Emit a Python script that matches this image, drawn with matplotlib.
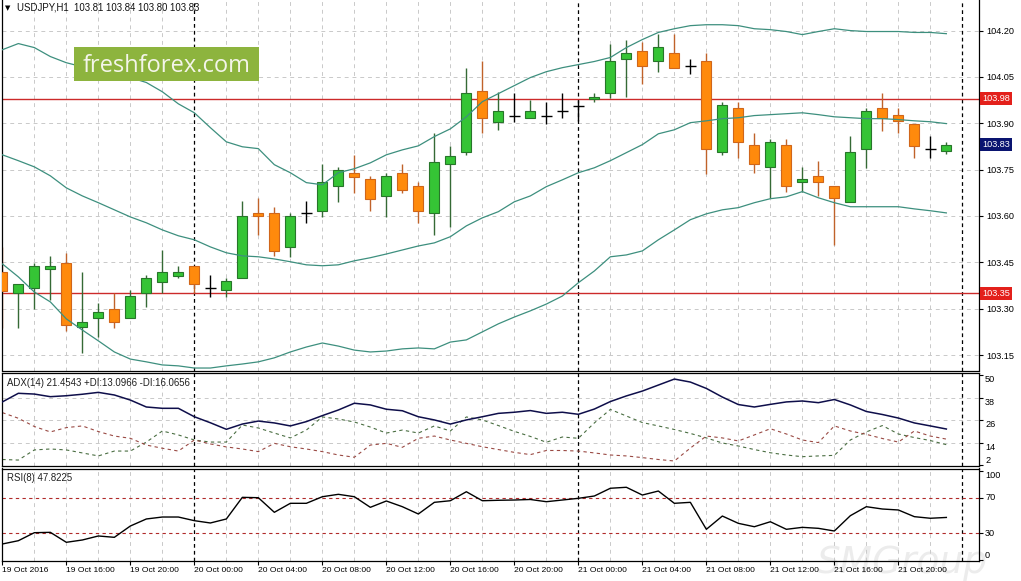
import matplotlib
matplotlib.use('Agg')
import matplotlib.pyplot as plt
import matplotlib.transforms as mtransforms
from matplotlib.patches import Rectangle

# USDJPY H1, 19 Oct 12:00 .. 21 Oct 23:00 (60 bars)
opens = [103.419, 103.351, 103.367, 103.429, 103.448, 103.241, 103.270, 103.299, 103.270, 103.351,
         103.387, 103.406, 103.439, 103.367, 103.361, 103.400, 103.610, 103.610, 103.500, 103.610,
         103.617, 103.698, 103.740, 103.720, 103.665, 103.740, 103.698, 103.610, 103.769, 103.808,
         104.006, 103.905, 103.925, 103.918, 103.925, 103.941, 103.957, 103.980, 103.999, 104.109,
         104.135, 104.100, 104.129, 104.085, 104.100, 103.808, 103.951, 103.831, 103.759, 103.831,
         103.711, 103.730, 103.698, 103.646, 103.818, 103.951, 103.928, 103.899, 103.818, 103.81]
highs = [103.500, 103.380, 103.448, 103.471, 103.481, 103.419, 103.319, 103.351, 103.361, 103.409,
         103.490, 103.439, 103.439, 103.409, 103.400, 103.649, 103.659, 103.630, 103.610, 103.649,
         103.769, 103.759, 103.798, 103.730, 103.740, 103.769, 103.711, 103.870, 103.827, 104.080,
         104.100, 104.002, 103.999, 103.976, 103.970, 103.999, 103.976, 103.999, 104.158, 104.168,
         104.164, 104.190, 104.190, 104.109, 104.129, 103.970, 103.970, 103.870, 103.850, 103.850,
         103.759, 103.779, 103.698, 103.860, 103.951, 103.999, 103.951, 103.899, 103.860, 103.84]
lows = [103.238, 103.238, 103.299, 103.328, 103.228, 103.157, 103.209, 103.238, 103.270, 103.306,
        103.351, 103.400, 103.351, 103.338, 103.338, 103.400, 103.539, 103.471, 103.468, 103.578,
        103.597, 103.646, 103.675, 103.617, 103.597, 103.675, 103.578, 103.539, 103.565, 103.798,
        103.870, 103.879, 103.905, 103.918, 103.899, 103.918, 103.908, 103.970, 103.983, 103.986,
        104.028, 104.067, 104.080, 104.061, 103.737, 103.798, 103.788, 103.740, 103.659, 103.679,
        103.679, 103.665, 103.507, 103.646, 103.756, 103.876, 103.870, 103.788, 103.788, 103.80]
closes = [103.358, 103.380, 103.439, 103.439, 103.247, 103.257, 103.290, 103.257, 103.341, 103.400,
          103.419, 103.419, 103.380, 103.367, 103.390, 103.601, 103.601, 103.487, 103.601, 103.610,
          103.711, 103.750, 103.727, 103.656, 103.730, 103.685, 103.617, 103.776, 103.795, 103.999,
          103.918, 103.941, 103.925, 103.941, 103.925, 103.941, 103.957, 103.986, 104.100, 104.129,
          104.087, 104.148, 104.080, 104.085, 103.818, 103.960, 103.840, 103.769, 103.840, 103.698,
          103.720, 103.711, 103.659, 103.808, 103.941, 103.918, 103.908, 103.827, 103.818, 103.83]

bb_upper = [104.138, 104.158, 104.145, 104.116, 104.096, 104.083, 104.074, 104.061, 104.048, 104.032,
            104.002, 103.963, 103.934, 103.886, 103.840, 103.824, 103.818, 103.766, 103.740, 103.708,
            103.701, 103.740, 103.753, 103.772, 103.798, 103.814, 103.827, 103.857, 103.882, 103.921,
            103.970, 103.996, 104.022, 104.048, 104.067, 104.080, 104.090, 104.100, 104.113, 104.145,
            104.171, 104.194, 104.206, 104.216, 104.219, 104.219, 104.216, 104.206, 104.203, 104.197,
            104.187, 104.197, 104.206, 104.200, 104.197, 104.197, 104.197, 104.194, 104.194, 104.190]
bb_mid = [103.798, 103.779, 103.759, 103.730, 103.691, 103.665, 103.643, 103.620, 103.597, 103.578,
          103.555, 103.536, 103.523, 103.500, 103.481, 103.471, 103.468, 103.461, 103.452, 103.442,
          103.439, 103.442, 103.455, 103.465, 103.477, 103.490, 103.503, 103.513, 103.533, 103.568,
          103.594, 103.614, 103.646, 103.665, 103.695, 103.717, 103.740, 103.756, 103.779, 103.805,
          103.831, 103.866, 103.879, 103.902, 103.908, 103.915, 103.918, 103.925, 103.928, 103.931,
          103.934, 103.928, 103.921, 103.918, 103.915, 103.915, 103.912, 103.908, 103.905, 103.899]
bb_lower = [103.445, 103.403, 103.354, 103.322, 103.267, 103.231, 103.196, 103.160, 103.137, 103.128,
            103.118, 103.115, 103.108, 103.108, 103.115, 103.121, 103.128, 103.141, 103.160, 103.176,
            103.189, 103.179, 103.166, 103.160, 103.163, 103.170, 103.173, 103.170, 103.192, 103.199,
            103.225, 103.251, 103.273, 103.293, 103.315, 103.341, 103.384, 103.422, 103.468, 103.474,
            103.487, 103.523, 103.555, 103.588, 103.607, 103.620, 103.627, 103.643, 103.656, 103.662,
            103.679, 103.659, 103.643, 103.630, 103.630, 103.630, 103.630, 103.623, 103.617, 103.610]

adx = [35.9, 40.5, 40.1, 38.7, 39.2, 40.0, 41.0, 39.6, 36.9, 33.2,
       32.5, 32.5, 28.0, 24.8, 21.3, 24.1, 25.7, 24.7, 23.1, 25.4,
       28.6, 31.6, 35.2, 34.3, 32.0, 31.2, 28.0, 26.3, 24.1, 26.3,
       28.0, 29.8, 30.4, 31.3, 29.8, 30.4, 29.3, 32.1, 36.1, 39.1,
       41.7, 44.9, 48.1, 46.5, 43.1, 38.5, 34.5, 33.2, 34.6, 35.9,
       36.4, 35.5, 37.2, 34.3, 30.8, 29.2, 27.3, 24.7, 23.1, 21.4543]
plus_di = [5.2, 4.9, 10.3, 10.8, 10.3, 8.7, 7.1, 9.7, 9.7, 14.5,
           20.4, 18.3, 15.6, 14.5, 14.5, 23.6, 22.0, 19.3, 16.7, 20.9,
           27.9, 26.8, 25.2, 22.5, 19.3, 20.9, 19.3, 23.1, 20.4, 27.9,
           26.3, 23.3, 20.2, 17.5, 14.4, 17.2, 16.5, 24.7, 31.9, 28.4,
           24.9, 23.1, 21.2, 19.1, 16.7, 14.0, 12.4, 10.5, 8.8, 7.6,
           6.7, 7.1, 7.4, 15.6, 19.9, 23.3, 18.8, 16.9, 15.3, 13.0966]
minus_di = [30.2, 27.2, 22.8, 19.9, 22.2, 23.1, 20.1, 17.7, 16.5, 12.9,
            11.2, 9.7, 15.6, 13.5, 11.9, 10.8, 9.4, 13.8, 12.0, 10.8,
            9.4, 7.6, 6.4, 12.9, 13.8, 11.7, 16.5, 17.7, 15.6, 13.8,
            12.0, 10.5, 9.0, 7.8, 10.0, 10.0, 9.7, 8.7, 7.6, 7.1,
            6.2, 5.2, 4.4, 11.3, 17.7, 16.7, 15.1, 18.3, 21.6, 18.8,
            15.6, 14.2, 23.1, 20.4, 18.6, 16.4, 14.5, 20.4, 17.7, 16.0656]
rsi = [18.0, 21.7, 30.7, 31.1, 19.9, 22.5, 27.0, 25.5, 38.2, 46.1,
       48.3, 48.3, 44.2, 41.6, 46.1, 70.4, 70.0, 53.6, 63.7, 63.7,
       71.1, 73.8, 71.1, 59.2, 66.3, 59.9, 51.7, 64.8, 66.6, 76.7,
       66.6, 67.1, 67.4, 68.0, 65.5, 67.4, 69.3, 71.9, 80.6, 81.7,
       73.0, 77.5, 63.7, 64.8, 34.5, 49.4, 41.2, 37.4, 43.0, 34.5,
       36.7, 35.6, 32.6, 49.8, 59.9, 57.3, 56.2, 48.7, 46.9, 47.8225]

price_ticks = [104.20, 104.05, 103.90, 103.75, 103.60, 103.45, 103.30, 103.15]
levels = [103.98, 103.35]
time_labels = ['19 Oct 2016', '19 Oct 16:00', '19 Oct 20:00', '20 Oct 00:00', '20 Oct 04:00',
               '20 Oct 08:00', '20 Oct 12:00', '20 Oct 16:00', '20 Oct 20:00', '21 Oct 00:00',
               '21 Oct 04:00', '21 Oct 08:00', '21 Oct 12:00', '21 Oct 16:00', '21 Oct 20:00']
day_starts = [12, 36, 60]

FONT = 'Liberation Sans'
GRID = '#c9c9c9'
W, H = 1021, 581

fig = plt.figure(figsize=(W / 100, H / 100), dpi=100)
fig.patch.set_facecolor('white')


def box(x0, y0, x1, y1):
    return [x0 / W, 1 - y1 / H, (x1 - x0) / W, (y1 - y0) / H]


ax = fig.add_axes(box(1.7, 0, 979, 370.5))
adx_ax = fig.add_axes(box(1.7, 373, 979, 466))
rsi_ax = fig.add_axes(box(1.7, 468.5, 979, 561))

n = len(closes)
idx = list(range(n))

for a in (ax, adx_ax, rsi_ax):
    a.set_facecolor('none')
    a.set_xlim(-0.04, 61.04)
    for s in a.spines.values():
        s.set_color('black')
        s.set_linewidth(0.9)
    for i in range(0, 62, 2):
        if i not in day_starts:
            a.axvline(i, color=GRID, lw=0.7, ls=(0, (4, 4)), zorder=0)
    for d in day_starts:
        a.axvline(d, color='black', lw=0.9, ls=(0, (3, 2.5)), zorder=1)
    a.yaxis.tick_right()
    a.tick_params(axis='y', length=3, width=0.8, pad=2, labelsize=6.6, direction='out')
    a.tick_params(axis='x', bottom=False, labelbottom=False)
ax.spines['top'].set_visible(False)

# ---- main price panel
ax.set_ylim(103.100, 104.299)
for p in price_ticks:
    ax.axhline(p, color=GRID, lw=0.7, ls=(0, (4, 4)), zorder=0)
ax.set_yticks(price_ticks)
ax.set_yticklabels([f'{p:.2f}' for p in price_ticks], family=FONT)

for lv in levels:
    ax.axhline(lv, color='#cc2a2a', lw=1.0, zorder=1)

up = [i for i in idx if closes[i] > opens[i]]
dn = [i for i in idx if closes[i] < opens[i]]
dj = [i for i in idx if closes[i] == opens[i]]

ax.vlines(up, [lows[i] for i in up], [highs[i] for i in up], color='#356a35', lw=1.0, zorder=2)
ax.vlines(dn, [lows[i] for i in dn], [highs[i] for i in dn], color='#c0622a', lw=1.0, zorder=2)
ax.vlines(dj, [lows[i] for i in dj], [highs[i] for i in dj], color='black', lw=1.0, zorder=2)
ax.hlines([opens[i] for i in dj], [i - 0.33 for i in dj], [i + 0.33 for i in dj],
          color='black', lw=1.0, zorder=2)
ax.bar(up, [closes[i] - opens[i] for i in up], bottom=[opens[i] for i in up], width=0.62,
       color='#35c435', edgecolor='#27762a', linewidth=0.8, zorder=3)
ax.bar(dn, [opens[i] - closes[i] for i in dn], bottom=[closes[i] for i in dn], width=0.62,
       color='#ff8a0c', edgecolor='#d0661a', linewidth=0.8, zorder=3)

for band in (bb_upper, bb_mid, bb_lower):
    ax.plot(idx, band, color='#3d8f7e', lw=0.9, zorder=4)

trans = mtransforms.blended_transform_factory(ax.transAxes, ax.transData)
for lv in levels:
    ax.text(1.0035, lv, f'{lv:.2f}', transform=trans, ha='left', va='center', fontsize=6.6,
            family=FONT, color='white', clip_on=False,
            bbox=dict(boxstyle='square,pad=0.22', fc='#e3201b', ec='none'))
ax.text(1.0035, closes[-1], f'{closes[-1]:.2f}', transform=trans, ha='left', va='center',
        fontsize=6.6, family=FONT, color='white', clip_on=False,
        bbox=dict(boxstyle='square,pad=0.22', fc='#0a1470', ec='none'))

# ---- ADX panel
adx_ax.set_ylim(1.73, 51.33)
adx_ticks = [50, 38, 26, 14, 2]
adx_ax.set_yticks(adx_ticks)
adx_ax.set_yticklabels([])
for v in [38, 26, 14]:
    adx_ax.axhline(v, color=GRID, lw=0.7, ls=(0, (4, 4)), zorder=0)
adx_ax.plot(idx, adx, color='#0e0e4a', lw=1.1, zorder=3)
adx_ax.plot(idx, plus_di, color='#4a6e42', lw=0.8, ls=(0, (3, 3)), zorder=2)
adx_ax.plot(idx, minus_di, color='#9a4a44', lw=0.8, ls=(0, (3, 3)), zorder=2)
tr_adx = mtransforms.blended_transform_factory(adx_ax.transAxes, adx_ax.transData)
for v in adx_ticks:
    adx_ax.text(1.0062, v, str(v), transform=tr_adx, ha='left', va='bottom' if v == 2 else 'top',
                fontsize=6.6, family=FONT, clip_on=False)
adx_ax.text(0.0051, 0.89,
            f'ADX(14) {adx[-1]:.4f} +DI:{plus_di[-1]:.4f} -DI:{minus_di[-1]:.4f}',
            transform=adx_ax.transAxes, ha='left', va='center', fontsize=6.9, family=FONT,
            color='#202020')

# ---- RSI panel
rsi_ax.set_ylim(-1.1, 102.8)
rsi_ticks = [100, 70, 30, 0]
rsi_ax.set_yticks(rsi_ticks)
rsi_ax.set_yticklabels([])
for v in (70, 30):
    rsi_ax.axhline(v, color='#b02a2a', lw=0.8, ls=(0, (3, 3)), zorder=1)
rsi_ax.plot(idx, rsi, color='black', lw=1.0, zorder=3)
tr_rsi = mtransforms.blended_transform_factory(rsi_ax.transAxes, rsi_ax.transData)
for v in rsi_ticks:
    va = 'top' if v == 100 else ('bottom' if v == 0 else 'center')
    rsi_ax.text(1.0062, v, str(v), transform=tr_rsi, ha='left', va=va,
                fontsize=6.6, family=FONT, clip_on=False)
rsi_ax.text(0.0051, 0.894, f'RSI(8) {rsi[-1]:.4f}', transform=rsi_ax.transAxes,
            ha='left', va='center', fontsize=6.9, family=FONT, color='#202020')

rsi_ax.tick_params(axis='x', bottom=True, labelbottom=True, length=3, width=0.8, pad=1.5,
                   labelsize=6.1)
rsi_ax.set_xticks(range(0, n, 4))
rsi_ax.set_xticklabels(time_labels, ha='left', family=FONT)

# ---- header, logo, watermark
fig.text(8 / W, 1 - 8 / H, '\u25bc', fontsize=5, family='DejaVu Sans', ha='center', va='center')
fig.text(17 / W, 1 - 8 / H,
         f'USDJPY,H1  {opens[-1]:.2f} {highs[-1]:.2f} {lows[-1]:.2f} {closes[-1]:.2f}',
         fontsize=6.9, family=FONT, ha='left', va='center', color='#101010')

fig.add_artist(Rectangle((74 / W, 1 - 81 / H), 185 / W, 34 / H, transform=fig.transFigure,
                         fc='#8db43e', ec='none', zorder=5))
fig.text(167 / W, 1 - 72.5 / H, 'freshforex.com', ha='center', va='baseline', fontsize=17,
         family='Open Sans', color='#f4f5ea', zorder=6)

fig.text(902 / W, 1 - 563 / H, 'SMGroup', fontsize=27, style='italic', family='DejaVu Sans',
         color='#ececec', ha='center', va='center', zorder=-1)

fig.savefig('out.png', dpi=100, facecolor='white')
